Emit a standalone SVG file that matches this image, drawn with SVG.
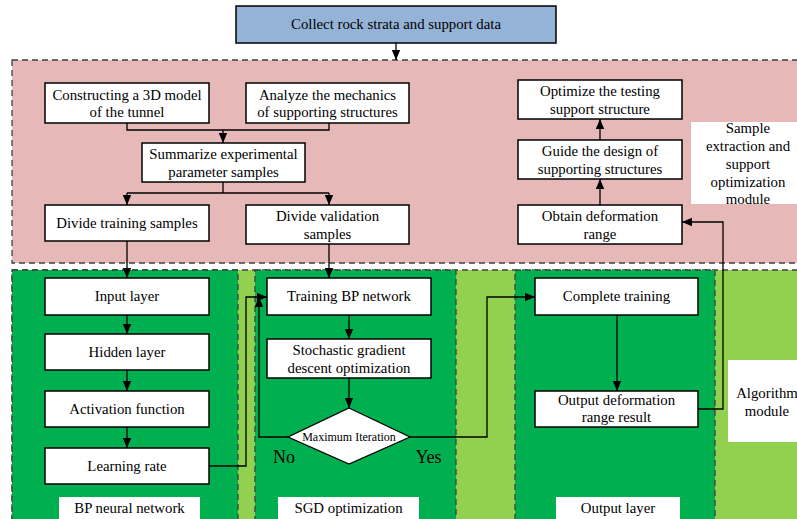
<svg xmlns="http://www.w3.org/2000/svg" width="797" height="519" viewBox="0 0 797 519" font-family="'Liberation Serif', 'Times New Roman', 'DejaVu Serif', serif">
<style>
text{font-family:'Liberation Serif','Times New Roman','DejaVu Serif',serif;font-size:14.8px;fill:#000;text-anchor:middle}
.box{fill:#fff;stroke:#000;stroke-width:1.5}
.lbl{fill:#fff;stroke:none}
.dash{stroke:#404040;stroke-width:1.3;stroke-dasharray:6,4}
.c{fill:none;stroke:#000;stroke-width:1.3}
.a{marker-end:url(#ah)}
</style>
<defs>
<marker id="ah" markerUnits="userSpaceOnUse" markerWidth="10" markerHeight="10" viewBox="0 0 10 10" refX="10" refY="5" orient="auto">
<path d="M0,0.8 L10,5 L0,9.2 Z" fill="#000"/>
</marker>
</defs>
<rect width="797" height="519" fill="#fff"/>
<g id="region-sample">
<rect x="12" y="60" width="800" height="203" fill="#e6b9b8" class="dash"/>
</g>
<g id="region-algorithm">
<rect x="12" y="270" width="800" height="260" fill="#92d050" class="dash"/>
<rect x="12" y="270" width="226" height="260" fill="#00b050" class="dash"/>
<rect x="255" y="270" width="201" height="260" fill="#00b050" class="dash"/>
<rect x="515" y="270" width="200" height="260" fill="#00b050" class="dash"/>
</g>
<g id="connectors">
<path class="c a" d="M396,43 V60"/>
<path class="c" d="M127,123 V130 H329 V123"/>
<path class="c a" d="M223,130 V143"/>
<path class="c" d="M223,182 V193"/>
<path class="c" d="M127,193 H329"/>
<path class="c a" d="M127,193 V205"/>
<path class="c a" d="M329,193 V205"/>
<path class="c a" d="M127,241 V278"/>
<path class="c a" d="M329,244 V278"/>
<path class="c a" d="M600,205 V179"/>
<path class="c a" d="M600,140 V119"/>
<path class="c a" d="M698,409 H723 V222 H682"/>
<path class="c a" d="M127,315 V334"/>
<path class="c a" d="M127,370 V391"/>
<path class="c a" d="M127,427 V448"/>
<path class="c a" d="M349,315 V339"/>
<path class="c a" d="M349,378 V408"/>
<path class="c a" d="M209,466 H246 V297 H267"/>
<path class="c a" d="M288,437 H259 V297"/>
<path class="c a" d="M410,437 H487 V297 H535"/>
<path class="c a" d="M617,315 V391"/>
</g>
<g id="collect">
<rect x="236" y="6" width="320" height="37" fill="#95b3d7" stroke="#000" stroke-width="1.5"/>
<text x="396" y="29">Collect rock strata and support data</text>
</g>
<g id="construct3d">
<rect class="box" x="45" y="83" width="164" height="40"/>
<text x="127" y="99.5">Constructing a 3D model</text>
<text x="127" y="117">of the tunnel</text>
</g>
<g id="analyze">
<rect class="box" x="246" y="83" width="163" height="40"/>
<text x="327.5" y="99.5">Analyze the mechanics</text>
<text x="327.5" y="117">of supporting structures</text>
</g>
<g id="summarize">
<rect class="box" x="142" y="143" width="163" height="39"/>
<text x="223.5" y="159">Summarize experimental</text>
<text x="223.5" y="176.5">parameter samples</text>
</g>
<g id="divide-training">
<rect class="box" x="45" y="205" width="164" height="36"/>
<text x="127" y="227.5">Divide training samples</text>
</g>
<g id="divide-validation">
<rect class="box" x="246" y="205" width="163" height="39"/>
<text x="327.5" y="221">Divide validation</text>
<text x="327.5" y="238.5">samples</text>
</g>
<g id="optimize">
<rect class="box" x="518" y="80" width="164" height="39"/>
<text x="600" y="96">Optimize the testing</text>
<text x="600" y="113.5">support structure</text>
</g>
<g id="guide">
<rect class="box" x="518" y="140" width="164" height="39"/>
<text x="600" y="156">Guide the design of</text>
<text x="600" y="173.5">supporting structures</text>
</g>
<g id="obtain">
<rect class="box" x="518" y="205" width="164" height="39"/>
<text x="600" y="221">Obtain deformation</text>
<text x="600" y="238.5">range</text>
</g>
<g id="label-sample">
<rect class="lbl" x="691" y="122" width="110" height="82"/>
<text x="748" y="132.5">Sample</text>
<text x="748" y="150.5">extraction and</text>
<text x="748" y="168.5">support</text>
<text x="748" y="186.5">optimization</text>
<text x="748" y="203.5">module</text>
</g>
<g id="input-layer">
<rect class="box" x="45" y="278" width="164" height="37"/>
<text x="127" y="301">Input layer</text>
</g>
<g id="hidden-layer">
<rect class="box" x="45" y="334" width="164" height="36"/>
<text x="127" y="356.5">Hidden layer</text>
</g>
<g id="activation">
<rect class="box" x="45" y="391" width="164" height="36"/>
<text x="127" y="413.5">Activation function</text>
</g>
<g id="learning-rate">
<rect class="box" x="45" y="448" width="164" height="36"/>
<text x="127" y="470.5">Learning rate</text>
</g>
<g id="label-bp">
<rect class="lbl" x="59" y="497" width="141" height="30"/>
<text x="129.5" y="513">BP neural network</text>
</g>
<g id="training-bp">
<rect class="box" x="267" y="278" width="164" height="37"/>
<text x="349" y="301">Training BP network</text>
</g>
<g id="sgd">
<rect class="box" x="267" y="339" width="164" height="39"/>
<text x="349" y="355">Stochastic gradient</text>
<text x="349" y="372.5">descent optimization</text>
</g>
<g id="max-iteration">
<polygon points="349,408 410,437 349,464 288,437" fill="#fff" stroke="#000" stroke-width="1.3"/>
<text x="349" y="441" style="font-size:12px">Maximum Iteration</text>
</g>
<g id="no-yes">
<text x="284" y="463" style="font-size:18px">No</text>
<text x="428.5" y="463" style="font-size:18px">Yes</text>
</g>
<g id="label-sgd">
<rect class="lbl" x="278" y="497" width="141" height="30"/>
<text x="348.5" y="513">SGD optimization</text>
</g>
<g id="complete-training">
<rect class="box" x="535" y="278" width="163" height="37"/>
<text x="616.5" y="301">Complete training</text>
</g>
<g id="output-result">
<rect class="box" x="535" y="391" width="163" height="36"/>
<text x="616.5" y="404.5">Output deformation</text>
<text x="616.5" y="422">range result</text>
</g>
<g id="label-output">
<rect class="lbl" x="556" y="497" width="124" height="30"/>
<text x="618" y="513">Output layer</text>
</g>
<g id="label-algorithm">
<rect class="lbl" x="728" y="360" width="75" height="82"/>
<text x="767" y="397.5">Algorithm</text>
<text x="767" y="415.5">module</text>
</g>
</svg>
